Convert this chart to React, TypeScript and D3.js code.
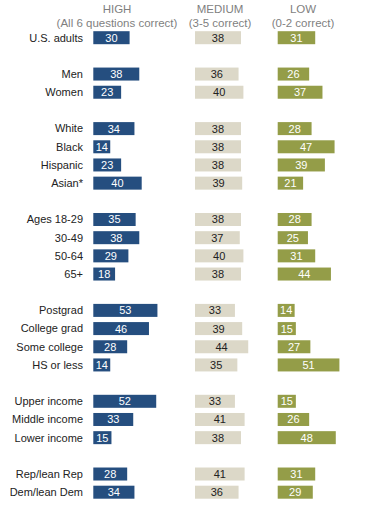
import * as React from "react";
import * as d3 from "d3";

// rows in display order; null marks the blank spacer between groups
const categories: (string | null)[] = [
  "U.S. adults", null,
  "Men", "Women", null,
  "White", "Black", "Hispanic", "Asian*", null,
  "Ages 18-29", "30-49", "50-64", "65+", null,
  "Postgrad", "College grad", "Some college", "HS or less", null,
  "Upper income", "Middle income", "Lower income", null,
  "Rep/lean Rep", "Dem/lean Dem"
];

const highValues = [30, 38, 23, 34, 14, 23, 40, 35, 38, 29, 18, 53, 46, 28, 14, 52, 33, 15, 28, 34];
const mediumValues = [38, 36, 40, 38, 38, 38, 39, 38, 37, 40, 38, 33, 39, 44, 35, 33, 41, 38, 41, 36];
const lowValues = [31, 26, 37, 28, 47, 39, 21, 28, 25, 31, 44, 14, 15, 27, 51, 15, 26, 48, 31, 29];

const seriesNames = ["HIGH", "MEDIUM", "LOW"];
const seriesNotes = ["(All 6 questions correct)", "(3-5 correct)", "(0-2 correct)"];

const W = 391;
const H = 507;
const FONT = "'Liberation Sans', Arial, sans-serif";

const colStart = [93.3, 195, 277.7];
const colHeaderX = [117, 220, 303];
const fills = ["#254e7f", "#dcd8c8", "#949d48"];
const textFills = ["#ffffff", "#222222", "#ffffff"];

const App: React.FunctionComponent = () => {
  const ref = React.useRef<SVGSVGElement>(null);

  React.useEffect(() => {
    const svg = d3.select(ref.current);
    svg.selectAll("*").remove();

    const x = d3.scaleLinear().domain([0, 100]).range([0, 121]);
    const y = d3.scaleLinear().domain([0, categories.length - 1]).range([37.7, 492.2]);
    const barH = 13;

    const rows: { label: string; slot: number; vals: number[] }[] = [];
    let k = 0;
    categories.forEach((c, i) => {
      if (c === null) return;
      rows.push({ label: c, slot: i, vals: [highValues[k], mediumValues[k], lowValues[k]] });
      k++;
    });

    // headers
    const head = svg.append("g").attr("font-family", FONT).attr("fill", "#7f7f7f").attr("text-anchor", "middle");
    seriesNames.forEach((s, i) => {
      head.append("text").attr("x", colHeaderX[i]).attr("y", 13).attr("font-size", 11.5).text(s);
      head.append("text").attr("x", colHeaderX[i]).attr("y", 27).attr("font-size", 11.5).text(seriesNotes[i]);
    });

    const g = svg.append("g").attr("font-family", FONT).attr("font-size", 11);

    g.selectAll("text.cat")
      .data(rows)
      .enter()
      .append("text")
      .attr("class", "cat")
      .attr("x", 83)
      .attr("y", d => y(d.slot))
      .attr("dy", "0.35em")
      .attr("text-anchor", "end")
      .attr("fill", "#222")
      .text(d => d.label);

    seriesNames.forEach((_, si) => {
      const col = g.append("g").attr("transform", `translate(${colStart[si]},0)`);
      col.selectAll("rect")
        .data(rows)
        .enter()
        .append("rect")
        .attr("x", 0)
        .attr("y", d => y(d.slot) - barH / 2)
        .attr("width", d => x(d.vals[si]))
        .attr("height", barH)
        .attr("fill", fills[si]);
      col.selectAll("text")
        .data(rows)
        .enter()
        .append("text")
        .attr("x", d => Math.max(x(d.vals[si]) / 2, 8.5))
        .attr("y", d => y(d.slot))
        .attr("dy", "0.36em")
        .attr("text-anchor", "middle")
        .attr("fill", textFills[si])
        .text(d => d.vals[si]);
    });
  }, []);

  return (
    <svg
      ref={ref}
      width={W}
      height={H}
      style={{ position: "absolute", left: 0, top: 0, background: "#fff" }}
    />
  );
};

export default App;
